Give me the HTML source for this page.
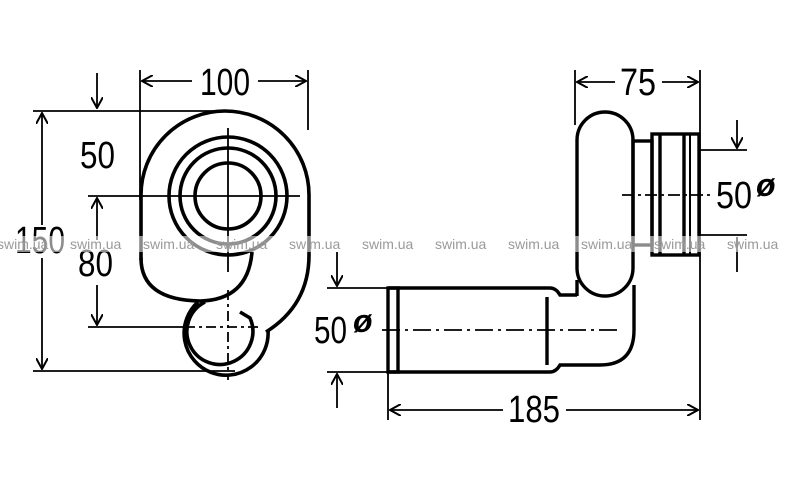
<!DOCTYPE html>
<html><head><meta charset="utf-8"><style>
html,body{margin:0;padding:0;background:#fff;}
svg{display:block;}
text{font-family:"Liberation Sans",sans-serif;}
</style></head><body>
<svg width="800" height="491" viewBox="0 0 800 491" xmlns="http://www.w3.org/2000/svg">
<defs>
<marker id="a" viewBox="0 0 12 12" refX="11" refY="6" markerWidth="12" markerHeight="12" markerUnits="userSpaceOnUse" orient="auto">
<path d="M0,0 L11,6 L0,12" fill="none" stroke="#000" stroke-width="2"/>
</marker>
</defs>
<rect width="800" height="491" fill="#fff"/>
<g stroke="#000" fill="none" stroke-width="1.8">
<line x1="140" y1="70" x2="140" y2="200"/>
<line x1="308" y1="70" x2="308" y2="130"/>
<line x1="192" y1="81" x2="142" y2="81" marker-end="url(#a)"/>
<line x1="258" y1="81" x2="306" y2="81" marker-end="url(#a)"/>
<line x1="33" y1="111" x2="235" y2="111"/>
<line x1="33" y1="371" x2="235" y2="371"/>
<line x1="42" y1="225" x2="42" y2="113" marker-end="url(#a)"/>
<line x1="42" y1="258" x2="42" y2="369" marker-end="url(#a)"/>
<line x1="97" y1="73" x2="97" y2="108" marker-end="url(#a)"/>
<line x1="88" y1="196" x2="300" y2="196"/>
<line x1="228" y1="128" x2="228" y2="272"/>
<line x1="97" y1="240" x2="97" y2="198" marker-end="url(#a)"/>
<line x1="97" y1="285" x2="97" y2="325" marker-end="url(#a)"/>
<line x1="88" y1="327" x2="185" y2="327"/>
<line x1="185" y1="327" x2="260" y2="327" stroke-dasharray="10,4,3,4"/>
<line x1="228" y1="290" x2="228" y2="380" stroke-dasharray="10,4,3,4"/>
</g>
<g stroke="#000" fill="none" stroke-width="3.6">
<path d="M141,260 L141,195 A84,84 0 0 1 309,195 L309,255 Q309,305 266,332"/>
<path d="M141,258 Q141,300 200,301 Q248,300 252,252"/>
<circle cx="228" cy="196" r="59"/>
<circle cx="228" cy="196" r="48"/>
<circle cx="228" cy="196" r="33"/>
<path d="M198,302 A42,42 0 1 0 268,330"/>
<path d="M205,302 A33,33 0 1 0 250,318 L240,312"/>
</g>
<g stroke="#000" fill="none" stroke-width="1.8">
<line x1="575" y1="70" x2="575" y2="125"/>
<line x1="700" y1="70" x2="700" y2="420"/>
<line x1="615" y1="82" x2="577" y2="82" marker-end="url(#a)"/>
<line x1="662" y1="82" x2="698" y2="82" marker-end="url(#a)"/>
<line x1="700" y1="150" x2="747" y2="150"/>
<line x1="700" y1="235" x2="747" y2="235"/>
<line x1="737" y1="120" x2="737" y2="148" marker-end="url(#a)"/>
<line x1="737" y1="237" x2="737" y2="272"/>
<line x1="622" y1="195" x2="710" y2="195" stroke-dasharray="12,4,3,4"/>
<line x1="327" y1="288" x2="388" y2="288"/>
<line x1="327" y1="372" x2="388" y2="372"/>
<line x1="337" y1="252" x2="337" y2="286" marker-end="url(#a)"/>
<line x1="337" y1="408" x2="337" y2="374" marker-end="url(#a)"/>
<line x1="388" y1="372" x2="388" y2="420"/>
<line x1="382" y1="330" x2="622" y2="330" stroke-dasharray="18,5,3,5"/>
<line x1="503" y1="410" x2="390" y2="410" marker-end="url(#a)"/>
<line x1="566" y1="410" x2="698" y2="410" marker-end="url(#a)"/>
</g>
<g stroke="#000" fill="none" stroke-width="3.4">
<rect x="577" y="112" width="56" height="184" rx="28" ry="28"/>
<rect x="633" y="141" width="19" height="104"/>
<rect x="652" y="134" width="47" height="121"/>
<line x1="660" y1="134" x2="660" y2="255"/>
<line x1="684" y1="134" x2="684" y2="255"/>
<line x1="690" y1="134" x2="690" y2="255" stroke-width="2"/>
<path d="M388,288 L550,288 Q556,288 560,295 L577,295"/>
<path d="M388,372 L550,372 Q556,372 560,365 L600,365 Q634,365 634,330 L634,285"/>
<rect x="388" y="288" width="10" height="84"/>
<line x1="547" y1="297" x2="547" y2="365"/>
<line x1="577" y1="280" x2="577" y2="296"/>
</g>
<g font-size="38" fill="#000" lengthAdjust="spacingAndGlyphs">
<text x="200" y="95" textLength="50" lengthAdjust="spacingAndGlyphs">100</text>
<text x="80" y="168" textLength="35" lengthAdjust="spacingAndGlyphs">50</text>
<text x="15" y="253" textLength="50" lengthAdjust="spacingAndGlyphs">150</text>
<text x="78" y="276" textLength="35" lengthAdjust="spacingAndGlyphs">80</text>
<text x="620" y="95" textLength="36" lengthAdjust="spacingAndGlyphs">75</text>
<text x="716" y="208" textLength="36" lengthAdjust="spacingAndGlyphs">50</text>
<text x="314" y="343" textLength="33" lengthAdjust="spacingAndGlyphs">50</text>
<text x="508" y="422" textLength="52" lengthAdjust="spacingAndGlyphs">185</text>
</g>
<g font-size="32" fill="#000" font-style="italic" font-weight="bold">
<text x="756" y="196">ø</text>
<text x="353" y="332">ø</text>
</g>
<rect x="0" y="236" width="800" height="16" fill="#fff" fill-opacity="0.55"/>
<g font-size="14" fill="#9a9a9a">
<text x="-3" y="249">swim.ua</text>
<text x="70" y="249">swim.ua</text>
<text x="143" y="249">swim.ua</text>
<text x="216" y="249">swim.ua</text>
<text x="289" y="249">swim.ua</text>
<text x="362" y="249">swim.ua</text>
<text x="435" y="249">swim.ua</text>
<text x="508" y="249">swim.ua</text>
<text x="581" y="249">swim.ua</text>
<text x="654" y="249">swim.ua</text>
<text x="727" y="249">swim.ua</text>
</g>
</svg>
</body></html>
